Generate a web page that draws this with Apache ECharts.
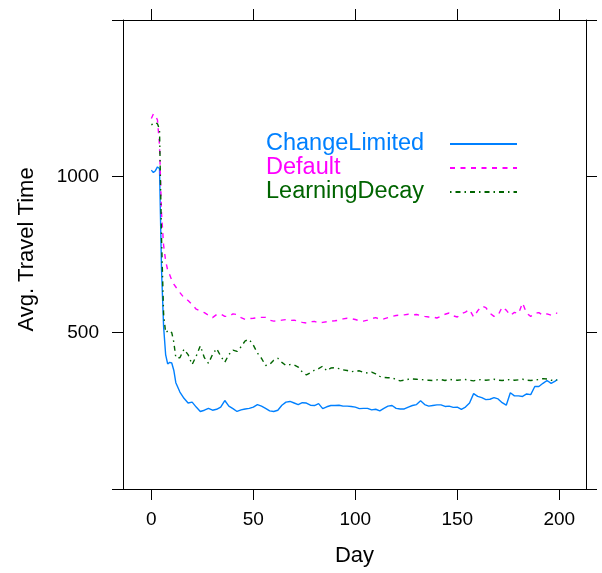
<!DOCTYPE html>
<html>
<head>
<meta charset="utf-8">
<script src="https://cdn.jsdelivr.net/npm/echarts@6/dist/echarts.min.js"></script>
<style>html,body{margin:0;padding:0;background:#fff;}#c{width:602px;height:573px;}</style>
</head>
<body>
<div id="c"></div>
<script>
const seriesNames = ['ChangeLimited', 'Default', 'LearningDecay'];
const days = [0,1,2,3,4,5,6,7,8,9,10,11,12,
  14,16,18,20,22,24,26,28,30,32,34,36,38,40,42,44,46,48,50,52,54,56,58,60,62,64,66,
  68,70,72,74,76,78,80,82,84,86,88,90,92,94,96,98,100,102,104,106,108,110,112,114,116,118,120,
  122,124,126,128,130,132,134,136,138,140,142,144,146,148,150,152,154,156,158,160,162,164,166,168,170,
  172,174,176,178,180,182,184,186,188,190,192,194,196,198,199];
const changeLimited = [1020,1012,1018,1030,1025,700,520,430,400,405,403,380,340,
  310,290,275,278,262,248,252,258,252,255,262,283,265,257,248,253,256,258,262,270,265,258,250,248,252,268,278,
  280,275,270,276,275,268,267,273,257,263,267,267,268,265,265,264,262,257,258,258,253,255,250,258,265,267,258,
  256,256,262,267,270,282,270,265,267,269,269,264,265,261,262,255,262,275,305,296,292,286,287,292,288,
  276,268,308,298,298,296,304,302,328,328,338,347,338,345,350];
const defaultVals = [1185,1200,1195,1180,1100,880,780,730,700,685,668,655,646,
  628,612,603,590,575,569,564,556,548,558,560,552,552,560,558,548,542,545,546,548,549,549,540,537,538,540,542,
  539,540,537,533,531,535,536,531,533,535,537,538,540,544,546,545,542,538,537,540,545,548,543,544,548,552,555,
  556,557,559,557,558,555,552,550,550,547,552,559,563,554,550,561,566,574,550,570,585,580,562,552,556,
  582,572,555,565,561,595,562,552,562,564,556,560,556,563,562];
const learningDecay = [1165,1168,1172,1168,1150,800,560,500,505,507,500,470,420,
  420,447,430,398,425,458,420,402,430,449,425,405,430,444,440,455,474,478,460,435,418,395,398,412,418,405,395,
  398,397,390,374,365,372,380,385,393,378,387,388,385,381,379,375,377,378,373,371,374,368,360,357,356,356,350,
  346,348,351,352,351,350,349,348,347,349,350,347,351,349,348,349,350,348,346,349,350,348,349,351,348,
  347,349,350,348,349,351,348,347,349,350,353,352,348,347,349];
const xTicks = [0, 50, 100, 150, 200];
const yTicks = [0, 500, 1000, 1500];
const yLabels = [500, 1000];

const colors = ['#0080ff', '#ff00ff', '#006400'];
const lineTypes = ['solid', [5, 5.5], [1.5, 4, 5, 4]];
const valueSets = [changeLimited, defaultVals, learningDecay];
const FONT = 'Liberation Sans, Arial, Helvetica, sans-serif';

const chart = echarts.init(document.getElementById('c'), null, {renderer: 'canvas'});
const axLine = {show: true, onZero: false, lineStyle: {color: '#000', width: 1}};
const tick = (vals) => ({show: true, inside: false, length: 11, customValues: vals, lineStyle: {color: '#000', width: 1}});

chart.setOption({
  animation: false,
  backgroundColor: '#fff',
  grid: {left: 123, right: 16, top: 20, bottom: 84, containLabel: false},
  legend: {
    orient: 'vertical',
    left: 261, top: 127,
    align: 'right',
    itemWidth: 67, itemHeight: 14, itemGap: 0,
    itemStyle: {opacity: 0, color: 'rgba(0,0,0,0)', borderWidth: 0},
    formatter: (name) => '{t|' + name + '}',
    textStyle: {
      fontFamily: FONT, fontSize: 23.5, lineHeight: 23,
      rich: {t: {width: 179, align: 'left', fontFamily: FONT, fontSize: 23.5, lineHeight: 23}}
    },
    data: seriesNames.map((n, i) => ({name: n, textStyle: {color: colors[i]}}))
  },
  xAxis: [
    {type: 'value', min: -13.9, max: 213.1, position: 'bottom',
     axisLine: axLine, splitLine: {show: false}, axisTick: tick(xTicks),
     axisLabel: {customValues: xTicks, color: '#000', fontSize: 19, fontFamily: FONT, margin: 21,
                 formatter: (v) => String(v)},
     name: 'Day', nameLocation: 'middle', nameGap: 56,
     nameTextStyle: {color: '#000', fontSize: 22, fontFamily: FONT}},
    {type: 'value', min: -13.9, max: 213.1, position: 'top',
     axisLine: axLine, splitLine: {show: false}, axisTick: tick(xTicks),
     axisLabel: {show: false}}
  ],
  yAxis: [
    {type: 'value', min: 0, max: 1500, position: 'left',
     axisLine: axLine, splitLine: {show: false}, axisTick: tick(yTicks),
     axisLabel: {customValues: yLabels, color: '#000', fontSize: 19, fontFamily: FONT, margin: 24,
                 formatter: (v) => String(v)},
     name: 'Avg. Travel Time', nameLocation: 'middle', nameRotate: 90, nameGap: 85,
     nameTextStyle: {color: '#000', fontSize: 22, fontFamily: FONT, padding: [0, 0, 0, 10]}},
    {type: 'value', min: 0, max: 1500, position: 'right',
     axisLine: axLine, splitLine: {show: false}, axisTick: tick(yTicks),
     axisLabel: {show: false}}
  ],
  series: seriesNames.map((n, i) => ({
    name: n, type: 'line', xAxisIndex: 0, yAxisIndex: 0,
    symbol: 'none', smooth: false,
    lineStyle: {color: colors[i], width: 1.4, type: lineTypes[i]},
    itemStyle: {color: colors[i]},
    data: days.map((d, k) => [d, valueSets[i][k]])
  }))
});
</script>
</body>
</html>
